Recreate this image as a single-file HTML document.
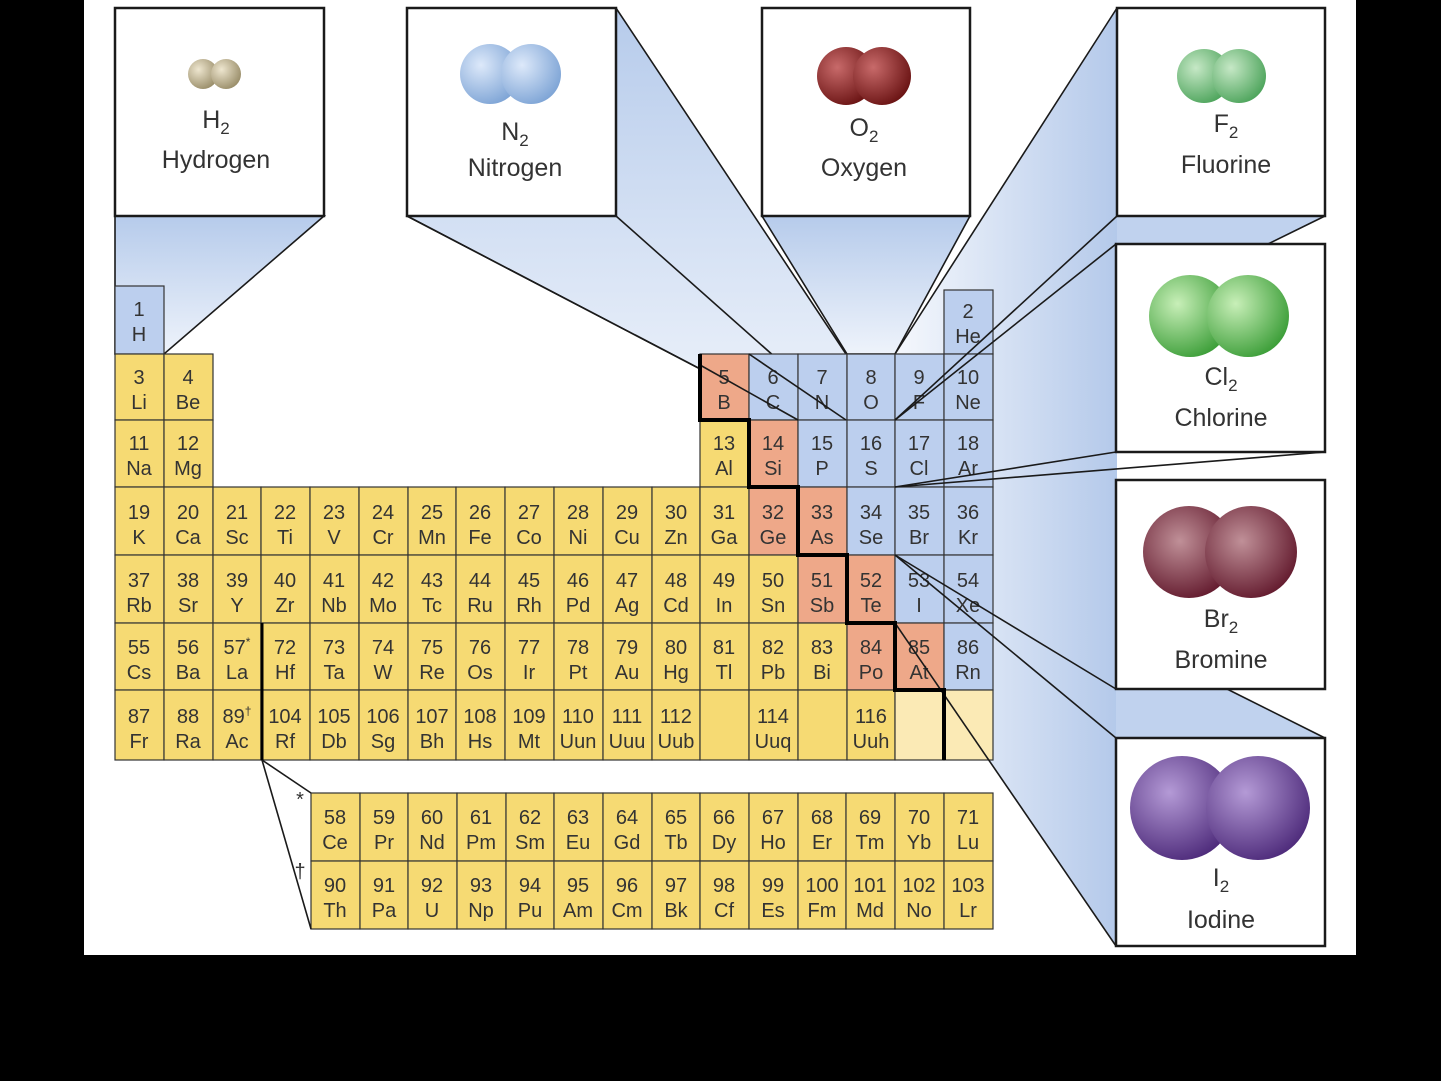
<!DOCTYPE html>
<html><head><meta charset="utf-8"><style>
html,body{margin:0;padding:0;background:#000;width:1441px;height:1081px;overflow:hidden}
svg{display:block}
text{font-family:"Liberation Sans",sans-serif;fill:#333;text-anchor:middle;font-size:20px}
.c rect{stroke:#333;stroke-width:1.2}
.y rect{fill:#f6da73}.b rect{fill:#bccfee}.s rect{fill:#eea889}.p rect{fill:#fbeab5}
.lbl{font-size:25px;fill:#333}
.fn{stroke:#1a1a1a;stroke-width:1.6;fill:url(#fg)}
.bx{fill:#fff;stroke:#1a1a1a;stroke-width:2.5}
.ln{stroke:#1a1a1a;stroke-width:1.6;fill:none}
</style></head><body>
<svg width="1441" height="1081" viewBox="0 0 1441 1081" xmlns="http://www.w3.org/2000/svg">
<defs>
<linearGradient id="fg" x1="0" y1="0" x2="0" y2="1"><stop offset="0" stop-color="#b6cbeb"/><stop offset="1" stop-color="#eef3fb"/></linearGradient>
<linearGradient id="fg2" gradientUnits="userSpaceOnUse" x1="900" y1="0" x2="1117" y2="0"><stop offset="0" stop-color="#f4f7fc"/><stop offset="1" stop-color="#b4c9ea"/></linearGradient>
<radialGradient id="gH" cx=".35" cy=".35" r=".7"><stop offset="0" stop-color="#eee6cf"/><stop offset="1" stop-color="#9a8e6a"/></radialGradient>
<radialGradient id="gN" cx=".35" cy=".35" r=".7"><stop offset="0" stop-color="#dde9fa"/><stop offset="1" stop-color="#7fa5d6"/></radialGradient>
<radialGradient id="gO" cx=".35" cy=".35" r=".7"><stop offset="0" stop-color="#c86a6a"/><stop offset="1" stop-color="#6b1414"/></radialGradient>
<radialGradient id="gF" cx=".35" cy=".35" r=".7"><stop offset="0" stop-color="#c6e8c6"/><stop offset="1" stop-color="#4fa55d"/></radialGradient>
<radialGradient id="gC" cx=".35" cy=".35" r=".7"><stop offset="0" stop-color="#c8efb8"/><stop offset="1" stop-color="#3e9f3a"/></radialGradient>
<radialGradient id="gB" cx=".4" cy=".38" r=".7"><stop offset="0" stop-color="#c09098"/><stop offset="1" stop-color="#5e1428"/></radialGradient>
<radialGradient id="gI" cx=".38" cy=".35" r=".7"><stop offset="0" stop-color="#b49ad6"/><stop offset="1" stop-color="#4d2a7a"/></radialGradient>
</defs>
<rect x="84" y="0" width="1272" height="955" fill="#fff"/>

<!-- big right funnel background -->
<polygon fill="url(#fg2)" points="895,354 1117,8 1117,946 895,623"/>
<polygon fill="#c0d2ee" points="1117,216 1325,216 1268,244 1117,244"/>
<polygon fill="#c0d2ee" points="1116,689 1227,689 1325,738 1116,738"/>
<line class="ln" x1="1325" y1="216" x2="1268" y2="244"/>
<line class="ln" x1="1227" y1="689" x2="1325" y2="738"/>

<!-- funnels -->
<polygon class="fn" points="115,216 324,216 164,354 115,354"/>
<polygon class="fn" points="407,216 616,8 846,354 846,420 798,420"/>
<polygon class="fn" points="762,216 970,216 895,354 847,354"/>
<line class="ln" x1="1117" y1="8" x2="895" y2="354"/>
<line class="ln" x1="407" y1="216" x2="798" y2="420"/>
<line class="ln" x1="616" y1="216" x2="846" y2="420"/>

<!-- boxes -->
<rect class="bx" x="115" y="8" width="209" height="208"/>
<rect class="bx" x="407" y="8" width="209" height="208"/>
<rect class="bx" x="762" y="8" width="208" height="208"/>
<rect class="bx" x="1117" y="8" width="208" height="208"/>
<rect class="bx" x="1116" y="244" width="209" height="208"/>
<rect class="bx" x="1116" y="480" width="209" height="209"/>
<rect class="bx" x="1116" y="738" width="209" height="208"/>

<circle cx="203" cy="74" r="15" fill="url(#gH)"/><circle cx="226" cy="74" r="15" fill="url(#gH)"/>
<text class="lbl" x="216" y="128">H<tspan font-size="17" dy="6">2</tspan></text>
<text class="lbl" x="216" y="168">Hydrogen</text>
<circle cx="490" cy="74" r="30" fill="url(#gN)"/><circle cx="531" cy="74" r="30" fill="url(#gN)"/>
<text class="lbl" x="515" y="140">N<tspan font-size="17" dy="6">2</tspan></text>
<text class="lbl" x="515" y="176">Nitrogen</text>
<circle cx="846" cy="76" r="29" fill="url(#gO)"/><circle cx="882" cy="76" r="29" fill="url(#gO)"/>
<text class="lbl" x="864" y="136">O<tspan font-size="17" dy="6">2</tspan></text>
<text class="lbl" x="864" y="176">Oxygen</text>
<circle cx="1204" cy="76" r="27" fill="url(#gF)"/><circle cx="1239" cy="76" r="27" fill="url(#gF)"/>
<text class="lbl" x="1226" y="132">F<tspan font-size="17" dy="6">2</tspan></text>
<text class="lbl" x="1226" y="173">Fluorine</text>
<circle cx="1190" cy="316" r="41" fill="url(#gC)"/><circle cx="1248" cy="316" r="41" fill="url(#gC)"/>
<text class="lbl" x="1221" y="385">Cl<tspan font-size="17" dy="6">2</tspan></text>
<text class="lbl" x="1221" y="426">Chlorine</text>
<circle cx="1189" cy="552" r="46" fill="url(#gB)"/><circle cx="1251" cy="552" r="46" fill="url(#gB)"/>
<text class="lbl" x="1221" y="627">Br<tspan font-size="17" dy="6">2</tspan></text>
<text class="lbl" x="1221" y="668">Bromine</text>
<circle cx="1182" cy="808" r="52" fill="url(#gI)"/><circle cx="1258" cy="808" r="52" fill="url(#gI)"/>
<text class="lbl" x="1221" y="886">I<tspan font-size="17" dy="6">2</tspan></text>
<text class="lbl" x="1221" y="928">Iodine</text>

<!-- row1 -->
<g class="c b" transform="translate(115,286)"><rect width="49" height="68"/><text x="24" y="30">1</text><text x="24" y="55">H</text></g>
<g class="c b" transform="translate(944,290)"><rect width="49" height="64"/><text x="24" y="28">2</text><text x="24" y="53">He</text></g>
<!-- row2 -->
<g class="c y" transform="translate(115,354)"><rect width="49" height="66"/><text x="24" y="30">3</text><text x="24" y="55">Li</text></g>
<g class="c y" transform="translate(164,354)"><rect width="49" height="66"/><text x="24" y="30">4</text><text x="24" y="55">Be</text></g>
<g class="c s" transform="translate(700,354)"><rect width="49" height="66"/><text x="24" y="30">5</text><text x="24" y="55">B</text></g>
<g class="c b" transform="translate(749,354)"><rect width="49" height="66"/><text x="24" y="30">6</text><text x="24" y="55">C</text></g>
<g class="c b" transform="translate(798,354)"><rect width="49" height="66"/><text x="24" y="30">7</text><text x="24" y="55">N</text></g>
<g class="c b" transform="translate(847,354)"><rect width="48" height="66"/><text x="24" y="30">8</text><text x="24" y="55">O</text></g>
<g class="c b" transform="translate(895,354)"><rect width="49" height="66"/><text x="24" y="30">9</text><text x="24" y="55">F</text></g>
<g class="c b" transform="translate(944,354)"><rect width="49" height="66"/><text x="24" y="30">10</text><text x="24" y="55">Ne</text></g>
<!-- row3 -->
<g class="c y" transform="translate(115,420)"><rect width="49" height="67"/><text x="24" y="30">11</text><text x="24" y="55">Na</text></g>
<g class="c y" transform="translate(164,420)"><rect width="49" height="67"/><text x="24" y="30">12</text><text x="24" y="55">Mg</text></g>
<g class="c y" transform="translate(700,420)"><rect width="49" height="67"/><text x="24" y="30">13</text><text x="24" y="55">Al</text></g>
<g class="c s" transform="translate(749,420)"><rect width="49" height="67"/><text x="24" y="30">14</text><text x="24" y="55">Si</text></g>
<g class="c b" transform="translate(798,420)"><rect width="49" height="67"/><text x="24" y="30">15</text><text x="24" y="55">P</text></g>
<g class="c b" transform="translate(847,420)"><rect width="48" height="67"/><text x="24" y="30">16</text><text x="24" y="55">S</text></g>
<g class="c b" transform="translate(895,420)"><rect width="49" height="67"/><text x="24" y="30">17</text><text x="24" y="55">Cl</text></g>
<g class="c b" transform="translate(944,420)"><rect width="49" height="67"/><text x="24" y="30">18</text><text x="24" y="55">Ar</text></g>
<!-- row4 -->
<g class="c y" transform="translate(115,487)"><rect width="49" height="68"/><text x="24" y="32">19</text><text x="24" y="57">K</text></g>
<g class="c y" transform="translate(164,487)"><rect width="49" height="68"/><text x="24" y="32">20</text><text x="24" y="57">Ca</text></g>
<g class="c y" transform="translate(213,487)"><rect width="48" height="68"/><text x="24" y="32">21</text><text x="24" y="57">Sc</text></g>
<g class="c y" transform="translate(261,487)"><rect width="49" height="68"/><text x="24" y="32">22</text><text x="24" y="57">Ti</text></g>
<g class="c y" transform="translate(310,487)"><rect width="49" height="68"/><text x="24" y="32">23</text><text x="24" y="57">V</text></g>
<g class="c y" transform="translate(359,487)"><rect width="49" height="68"/><text x="24" y="32">24</text><text x="24" y="57">Cr</text></g>
<g class="c y" transform="translate(408,487)"><rect width="48" height="68"/><text x="24" y="32">25</text><text x="24" y="57">Mn</text></g>
<g class="c y" transform="translate(456,487)"><rect width="49" height="68"/><text x="24" y="32">26</text><text x="24" y="57">Fe</text></g>
<g class="c y" transform="translate(505,487)"><rect width="49" height="68"/><text x="24" y="32">27</text><text x="24" y="57">Co</text></g>
<g class="c y" transform="translate(554,487)"><rect width="49" height="68"/><text x="24" y="32">28</text><text x="24" y="57">Ni</text></g>
<g class="c y" transform="translate(603,487)"><rect width="49" height="68"/><text x="24" y="32">29</text><text x="24" y="57">Cu</text></g>
<g class="c y" transform="translate(652,487)"><rect width="48" height="68"/><text x="24" y="32">30</text><text x="24" y="57">Zn</text></g>
<g class="c y" transform="translate(700,487)"><rect width="49" height="68"/><text x="24" y="32">31</text><text x="24" y="57">Ga</text></g>
<g class="c s" transform="translate(749,487)"><rect width="49" height="68"/><text x="24" y="32">32</text><text x="24" y="57">Ge</text></g>
<g class="c s" transform="translate(798,487)"><rect width="49" height="68"/><text x="24" y="32">33</text><text x="24" y="57">As</text></g>
<g class="c b" transform="translate(847,487)"><rect width="48" height="68"/><text x="24" y="32">34</text><text x="24" y="57">Se</text></g>
<g class="c b" transform="translate(895,487)"><rect width="49" height="68"/><text x="24" y="32">35</text><text x="24" y="57">Br</text></g>
<g class="c b" transform="translate(944,487)"><rect width="49" height="68"/><text x="24" y="32">36</text><text x="24" y="57">Kr</text></g>
<!-- row5 -->
<g class="c y" transform="translate(115,555)"><rect width="49" height="68"/><text x="24" y="32">37</text><text x="24" y="57">Rb</text></g>
<g class="c y" transform="translate(164,555)"><rect width="49" height="68"/><text x="24" y="32">38</text><text x="24" y="57">Sr</text></g>
<g class="c y" transform="translate(213,555)"><rect width="48" height="68"/><text x="24" y="32">39</text><text x="24" y="57">Y</text></g>
<g class="c y" transform="translate(261,555)"><rect width="49" height="68"/><text x="24" y="32">40</text><text x="24" y="57">Zr</text></g>
<g class="c y" transform="translate(310,555)"><rect width="49" height="68"/><text x="24" y="32">41</text><text x="24" y="57">Nb</text></g>
<g class="c y" transform="translate(359,555)"><rect width="49" height="68"/><text x="24" y="32">42</text><text x="24" y="57">Mo</text></g>
<g class="c y" transform="translate(408,555)"><rect width="48" height="68"/><text x="24" y="32">43</text><text x="24" y="57">Tc</text></g>
<g class="c y" transform="translate(456,555)"><rect width="49" height="68"/><text x="24" y="32">44</text><text x="24" y="57">Ru</text></g>
<g class="c y" transform="translate(505,555)"><rect width="49" height="68"/><text x="24" y="32">45</text><text x="24" y="57">Rh</text></g>
<g class="c y" transform="translate(554,555)"><rect width="49" height="68"/><text x="24" y="32">46</text><text x="24" y="57">Pd</text></g>
<g class="c y" transform="translate(603,555)"><rect width="49" height="68"/><text x="24" y="32">47</text><text x="24" y="57">Ag</text></g>
<g class="c y" transform="translate(652,555)"><rect width="48" height="68"/><text x="24" y="32">48</text><text x="24" y="57">Cd</text></g>
<g class="c y" transform="translate(700,555)"><rect width="49" height="68"/><text x="24" y="32">49</text><text x="24" y="57">In</text></g>
<g class="c y" transform="translate(749,555)"><rect width="49" height="68"/><text x="24" y="32">50</text><text x="24" y="57">Sn</text></g>
<g class="c s" transform="translate(798,555)"><rect width="49" height="68"/><text x="24" y="32">51</text><text x="24" y="57">Sb</text></g>
<g class="c s" transform="translate(847,555)"><rect width="48" height="68"/><text x="24" y="32">52</text><text x="24" y="57">Te</text></g>
<g class="c b" transform="translate(895,555)"><rect width="49" height="68"/><text x="24" y="32">53</text><text x="24" y="57">I</text></g>
<g class="c b" transform="translate(944,555)"><rect width="49" height="68"/><text x="24" y="32">54</text><text x="24" y="57">Xe</text></g>
<!-- row6 -->
<g class="c y" transform="translate(115,623)"><rect width="49" height="67"/><text x="24" y="31">55</text><text x="24" y="56">Cs</text></g>
<g class="c y" transform="translate(164,623)"><rect width="49" height="67"/><text x="24" y="31">56</text><text x="24" y="56">Ba</text></g>
<g class="c y" transform="translate(213,623)"><rect width="48" height="67"/><text x="24" y="31">57<tspan font-size="12" dy="-8">*</tspan></text><text x="24" y="56">La</text></g>
<g class="c y" transform="translate(261,623)"><rect width="49" height="67"/><text x="24" y="31">72</text><text x="24" y="56">Hf</text></g>
<g class="c y" transform="translate(310,623)"><rect width="49" height="67"/><text x="24" y="31">73</text><text x="24" y="56">Ta</text></g>
<g class="c y" transform="translate(359,623)"><rect width="49" height="67"/><text x="24" y="31">74</text><text x="24" y="56">W</text></g>
<g class="c y" transform="translate(408,623)"><rect width="48" height="67"/><text x="24" y="31">75</text><text x="24" y="56">Re</text></g>
<g class="c y" transform="translate(456,623)"><rect width="49" height="67"/><text x="24" y="31">76</text><text x="24" y="56">Os</text></g>
<g class="c y" transform="translate(505,623)"><rect width="49" height="67"/><text x="24" y="31">77</text><text x="24" y="56">Ir</text></g>
<g class="c y" transform="translate(554,623)"><rect width="49" height="67"/><text x="24" y="31">78</text><text x="24" y="56">Pt</text></g>
<g class="c y" transform="translate(603,623)"><rect width="49" height="67"/><text x="24" y="31">79</text><text x="24" y="56">Au</text></g>
<g class="c y" transform="translate(652,623)"><rect width="48" height="67"/><text x="24" y="31">80</text><text x="24" y="56">Hg</text></g>
<g class="c y" transform="translate(700,623)"><rect width="49" height="67"/><text x="24" y="31">81</text><text x="24" y="56">Tl</text></g>
<g class="c y" transform="translate(749,623)"><rect width="49" height="67"/><text x="24" y="31">82</text><text x="24" y="56">Pb</text></g>
<g class="c y" transform="translate(798,623)"><rect width="49" height="67"/><text x="24" y="31">83</text><text x="24" y="56">Bi</text></g>
<g class="c s" transform="translate(847,623)"><rect width="48" height="67"/><text x="24" y="31">84</text><text x="24" y="56">Po</text></g>
<g class="c s" transform="translate(895,623)"><rect width="49" height="67"/><text x="24" y="31">85</text><text x="24" y="56">At</text></g>
<g class="c b" transform="translate(944,623)"><rect width="49" height="67"/><text x="24" y="31">86</text><text x="24" y="56">Rn</text></g>
<!-- row7 -->
<g class="c y" transform="translate(115,690)"><rect width="49" height="70"/><text x="24" y="33">87</text><text x="24" y="58">Fr</text></g>
<g class="c y" transform="translate(164,690)"><rect width="49" height="70"/><text x="24" y="33">88</text><text x="24" y="58">Ra</text></g>
<g class="c y" transform="translate(213,690)"><rect width="48" height="70"/><text x="24" y="33">89<tspan font-size="12" dy="-8">†</tspan></text><text x="24" y="58">Ac</text></g>
<g class="c y" transform="translate(261,690)"><rect width="49" height="70"/><text x="24" y="33">104</text><text x="24" y="58">Rf</text></g>
<g class="c y" transform="translate(310,690)"><rect width="49" height="70"/><text x="24" y="33">105</text><text x="24" y="58">Db</text></g>
<g class="c y" transform="translate(359,690)"><rect width="49" height="70"/><text x="24" y="33">106</text><text x="24" y="58">Sg</text></g>
<g class="c y" transform="translate(408,690)"><rect width="48" height="70"/><text x="24" y="33">107</text><text x="24" y="58">Bh</text></g>
<g class="c y" transform="translate(456,690)"><rect width="49" height="70"/><text x="24" y="33">108</text><text x="24" y="58">Hs</text></g>
<g class="c y" transform="translate(505,690)"><rect width="49" height="70"/><text x="24" y="33">109</text><text x="24" y="58">Mt</text></g>
<g class="c y" transform="translate(554,690)"><rect width="49" height="70"/><text x="24" y="33">110</text><text x="24" y="58">Uun</text></g>
<g class="c y" transform="translate(603,690)"><rect width="49" height="70"/><text x="24" y="33">111</text><text x="24" y="58">Uuu</text></g>
<g class="c y" transform="translate(652,690)"><rect width="48" height="70"/><text x="24" y="33">112</text><text x="24" y="58">Uub</text></g>
<g class="c y" transform="translate(700,690)"><rect width="49" height="70"/></g>
<g class="c y" transform="translate(749,690)"><rect width="49" height="70"/><text x="24" y="33">114</text><text x="24" y="58">Uuq</text></g>
<g class="c y" transform="translate(798,690)"><rect width="49" height="70"/></g>
<g class="c y" transform="translate(847,690)"><rect width="48" height="70"/><text x="24" y="33">116</text><text x="24" y="58">Uuh</text></g>
<g class="c p" transform="translate(895,690)"><rect width="49" height="70"/></g>
<g class="c p" transform="translate(944,690)"><rect width="49" height="70"/></g>
<!-- lanthanides -->
<g class="c y" transform="translate(311,793)"><rect width="49" height="68"/><text x="24" y="31">58</text><text x="24" y="56">Ce</text></g>
<g class="c y" transform="translate(360,793)"><rect width="48" height="68"/><text x="24" y="31">59</text><text x="24" y="56">Pr</text></g>
<g class="c y" transform="translate(408,793)"><rect width="49" height="68"/><text x="24" y="31">60</text><text x="24" y="56">Nd</text></g>
<g class="c y" transform="translate(457,793)"><rect width="49" height="68"/><text x="24" y="31">61</text><text x="24" y="56">Pm</text></g>
<g class="c y" transform="translate(506,793)"><rect width="48" height="68"/><text x="24" y="31">62</text><text x="24" y="56">Sm</text></g>
<g class="c y" transform="translate(554,793)"><rect width="49" height="68"/><text x="24" y="31">63</text><text x="24" y="56">Eu</text></g>
<g class="c y" transform="translate(603,793)"><rect width="49" height="68"/><text x="24" y="31">64</text><text x="24" y="56">Gd</text></g>
<g class="c y" transform="translate(652,793)"><rect width="48" height="68"/><text x="24" y="31">65</text><text x="24" y="56">Tb</text></g>
<g class="c y" transform="translate(700,793)"><rect width="49" height="68"/><text x="24" y="31">66</text><text x="24" y="56">Dy</text></g>
<g class="c y" transform="translate(749,793)"><rect width="49" height="68"/><text x="24" y="31">67</text><text x="24" y="56">Ho</text></g>
<g class="c y" transform="translate(798,793)"><rect width="48" height="68"/><text x="24" y="31">68</text><text x="24" y="56">Er</text></g>
<g class="c y" transform="translate(846,793)"><rect width="49" height="68"/><text x="24" y="31">69</text><text x="24" y="56">Tm</text></g>
<g class="c y" transform="translate(895,793)"><rect width="49" height="68"/><text x="24" y="31">70</text><text x="24" y="56">Yb</text></g>
<g class="c y" transform="translate(944,793)"><rect width="49" height="68"/><text x="24" y="31">71</text><text x="24" y="56">Lu</text></g>
<g class="c y" transform="translate(311,861)"><rect width="49" height="68"/><text x="24" y="31">90</text><text x="24" y="56">Th</text></g>
<g class="c y" transform="translate(360,861)"><rect width="48" height="68"/><text x="24" y="31">91</text><text x="24" y="56">Pa</text></g>
<g class="c y" transform="translate(408,861)"><rect width="49" height="68"/><text x="24" y="31">92</text><text x="24" y="56">U</text></g>
<g class="c y" transform="translate(457,861)"><rect width="49" height="68"/><text x="24" y="31">93</text><text x="24" y="56">Np</text></g>
<g class="c y" transform="translate(506,861)"><rect width="48" height="68"/><text x="24" y="31">94</text><text x="24" y="56">Pu</text></g>
<g class="c y" transform="translate(554,861)"><rect width="49" height="68"/><text x="24" y="31">95</text><text x="24" y="56">Am</text></g>
<g class="c y" transform="translate(603,861)"><rect width="49" height="68"/><text x="24" y="31">96</text><text x="24" y="56">Cm</text></g>
<g class="c y" transform="translate(652,861)"><rect width="48" height="68"/><text x="24" y="31">97</text><text x="24" y="56">Bk</text></g>
<g class="c y" transform="translate(700,861)"><rect width="49" height="68"/><text x="24" y="31">98</text><text x="24" y="56">Cf</text></g>
<g class="c y" transform="translate(749,861)"><rect width="49" height="68"/><text x="24" y="31">99</text><text x="24" y="56">Es</text></g>
<g class="c y" transform="translate(798,861)"><rect width="48" height="68"/><text x="24" y="31">100</text><text x="24" y="56">Fm</text></g>
<g class="c y" transform="translate(846,861)"><rect width="49" height="68"/><text x="24" y="31">101</text><text x="24" y="56">Md</text></g>
<g class="c y" transform="translate(895,861)"><rect width="49" height="68"/><text x="24" y="31">102</text><text x="24" y="56">No</text></g>
<g class="c y" transform="translate(944,861)"><rect width="49" height="68"/><text x="24" y="31">103</text><text x="24" y="56">Lr</text></g>

<!-- lanthanide connectors -->
<line class="ln" x1="262" y1="760" x2="311" y2="793"/>
<line class="ln" x1="262" y1="760" x2="311" y2="929"/>
<text x="300" y="806" font-size="13">*</text>
<text x="300" y="878" font-size="15">†</text>

<!-- lines drawn over cells -->
<line class="ln" x1="700" y1="365" x2="798" y2="420"/>
<line class="ln" x1="749" y1="354" x2="846" y2="420"/>
<line class="ln" x1="1117" y1="216" x2="895" y2="420"/>
<line class="ln" x1="1116" y1="244" x2="895" y2="420"/>
<line class="ln" x1="1116" y1="452" x2="895" y2="487"/>
<line class="ln" x1="1325" y1="452" x2="895" y2="487"/>
<line class="ln" x1="895" y1="555" x2="1116" y2="689"/>
<line class="ln" x1="895" y1="555" x2="1116" y2="738"/>
<line class="ln" x1="895" y1="623" x2="1116" y2="946"/>

<!-- metalloid staircase -->
<polyline fill="none" stroke="#000" stroke-width="4" points="700,354 700,420 749,420 749,487 798,487 798,555 847,555 847,623 895,623 895,690 944,690 944,760"/>
<line x1="262" y1="623" x2="262" y2="760" stroke="#000" stroke-width="3"/>
</svg>
</body></html>
